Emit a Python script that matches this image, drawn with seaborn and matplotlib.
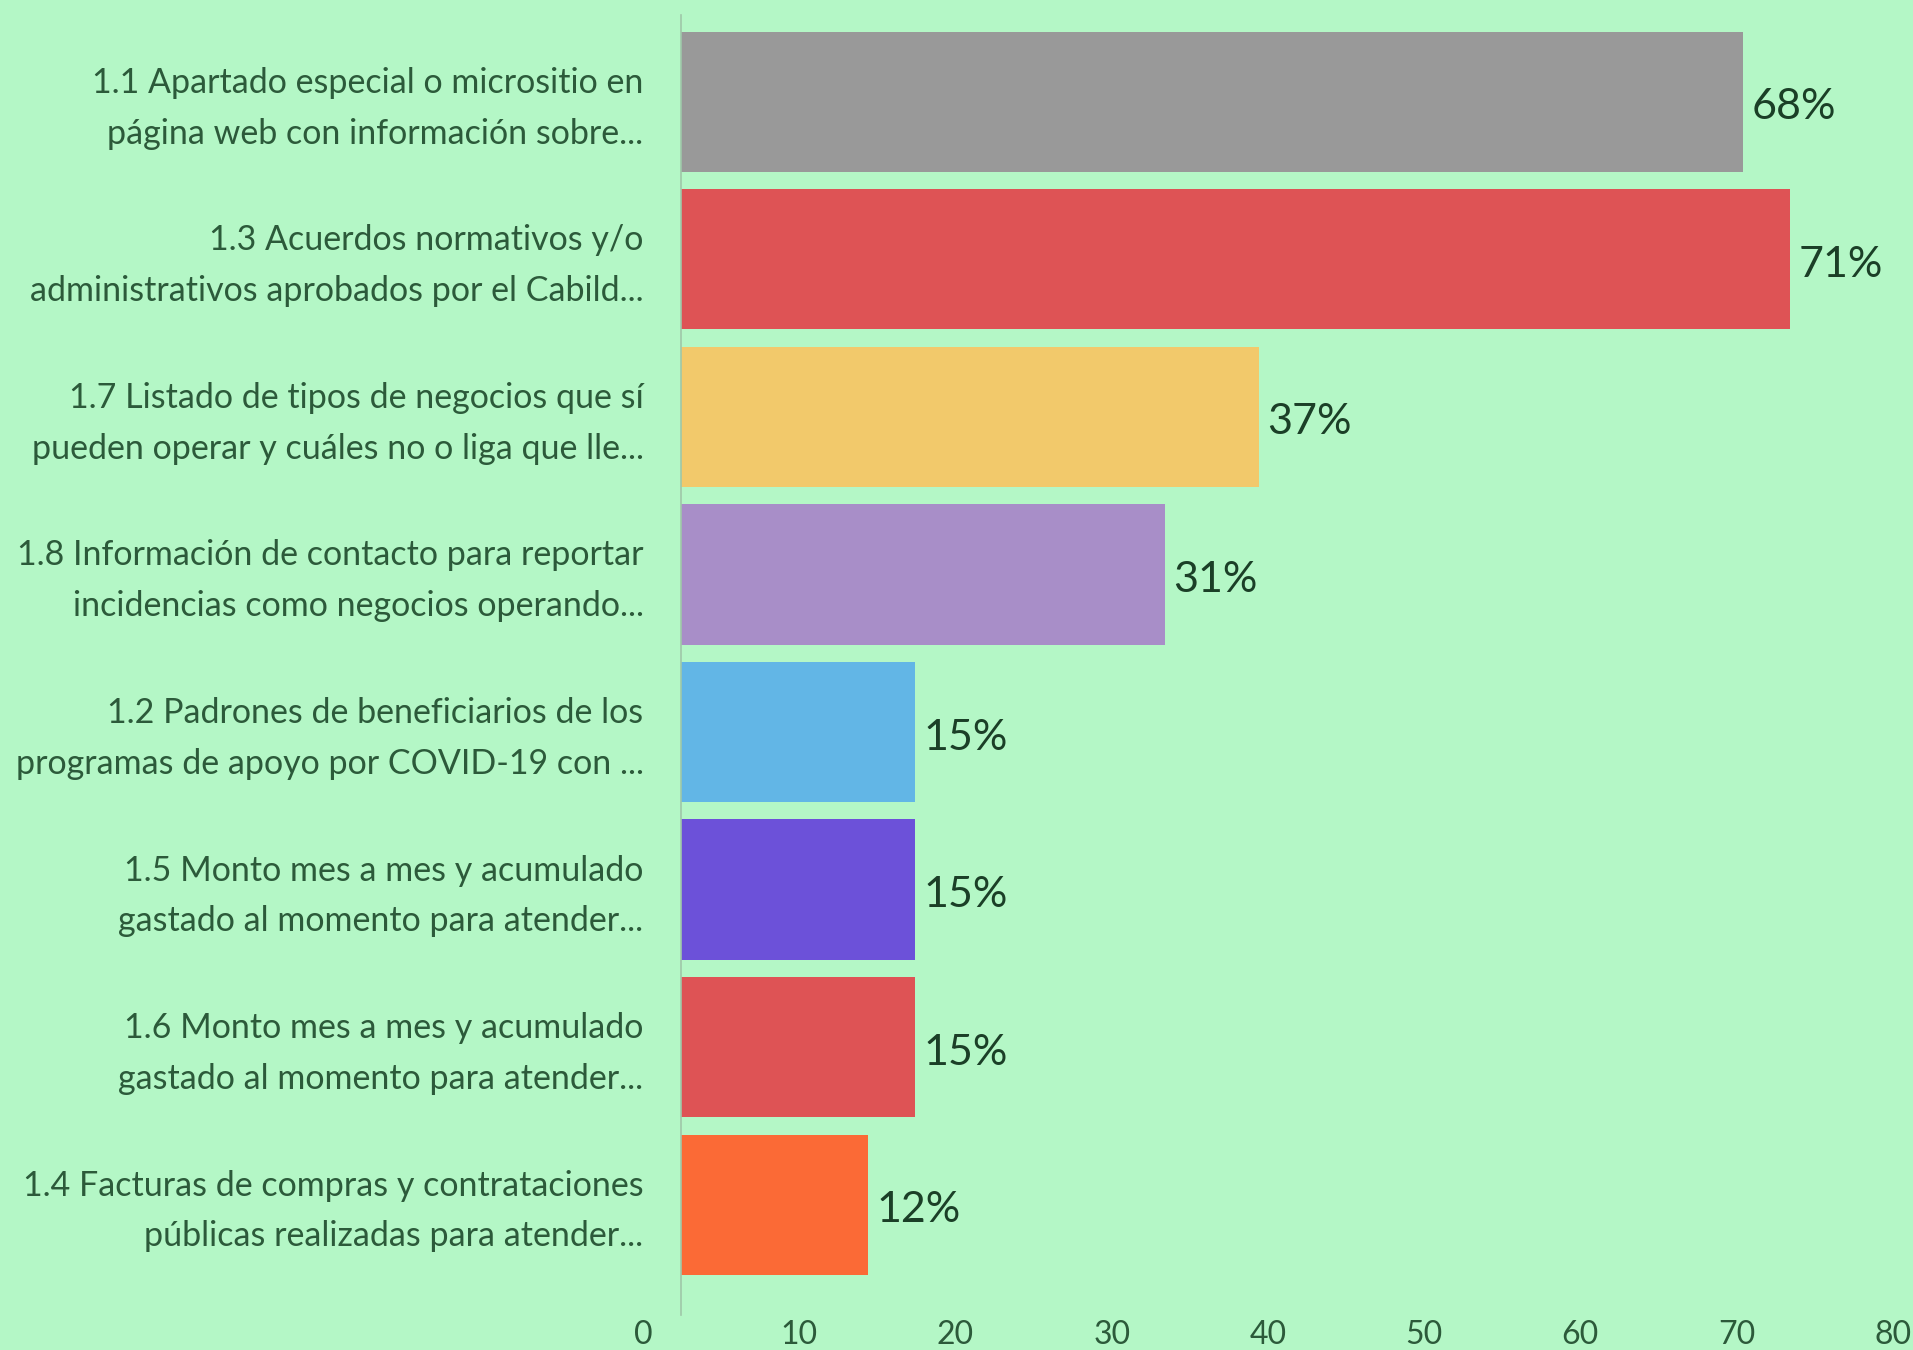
import matplotlib
matplotlib.use('Agg')
import matplotlib.pyplot as plt
import matplotlib.transforms as mtransforms
import seaborn as sns
import pandas as pd

labels = [
	'1.1 Apartado especial o micrositio en\npágina web con información sobre...',
	'1.3 Acuerdos normativos y/o\nadministrativos aprobados por el Cabild...',
	'1.7 Listado de tipos de negocios que sí\npueden operar y cuáles no o liga que lle...',
	'1.8 Información de contacto para reportar\nincidencias como negocios operando...',
	'1.2 Padrones de beneficiarios de los\nprogramas de apoyo por COVID-19 con ...',
	'1.5 Monto mes a mes y acumulado\ngastado al momento para atender...',
	'1.6 Monto mes a mes y acumulado\ngastado al momento para atender...',
	'1.4 Facturas de compras y contrataciones\npúblicas realizadas para atender...',
]
values = [68, 71, 37, 31, 15, 15, 15, 12]
bar_colors = ['#999999', '#de5355', '#f2c96b', '#a88ec8', '#62b6e6', '#6c51d9', '#de5355', '#fb6a36']
xticks = [0, 10, 20, 30, 40, 50, 60, 70, 80]

bg = '#b4f7c6'
text_col = '#2c5a3a'

sns.set_theme(style='white')
plt.rcParams['font.family'] = ['Lato', 'DejaVu Sans']

df = pd.DataFrame({'label': labels, 'value': values})

fig = plt.figure(figsize=(19.13, 13.5), dpi=100)
fig.patch.set_facecolor(bg)
# axes runs a little past the right edge, like the original
ax = fig.add_axes([0.356, 0.026, 0.6533, 0.963])
ax.set_facecolor(bg)

sns.barplot(data=df, y='label', x='value', hue='label', palette=bar_colors,
	legend=False, width=0.89, saturation=1, linewidth=0, ax=ax)

ax.set_xticks(xticks)
ax.set_xticklabels([str(t) for t in xticks])
ax.set_xlim(0, 80)
ax.set_ylim(7.70, -0.552)
ax.set_xlabel('')
ax.set_ylabel('')

for i, v in enumerate(values):
	ax.annotate(f'{v}%', (v, i), xytext=(6, -4), textcoords='offset points',
		va='center', ha='left', fontsize=31, color='#1b3f27')

ax.tick_params(axis='x', length=0, pad=4, labelsize=23, labelcolor=text_col)
ax.tick_params(axis='y', length=0, pad=27, labelsize=24.5, labelcolor=text_col)
yshift = mtransforms.ScaledTranslation(0, 0.06, fig.dpi_scale_trans)
for lab in ax.get_yticklabels():
	lab.set_linespacing(1.72)
	lab.set_transform(lab.get_transform() + yshift)
shift = mtransforms.ScaledTranslation(-0.38, 0, fig.dpi_scale_trans)
for lab in ax.get_xticklabels():
	lab.set_transform(lab.get_transform() + shift)

for s in ['top', 'right', 'bottom']:
	ax.spines[s].set_visible(False)
ax.spines['left'].set_color('#9fc7a9')
ax.spines['left'].set_linewidth(1.2)

fig.savefig('out.png', dpi=100, facecolor=bg)
